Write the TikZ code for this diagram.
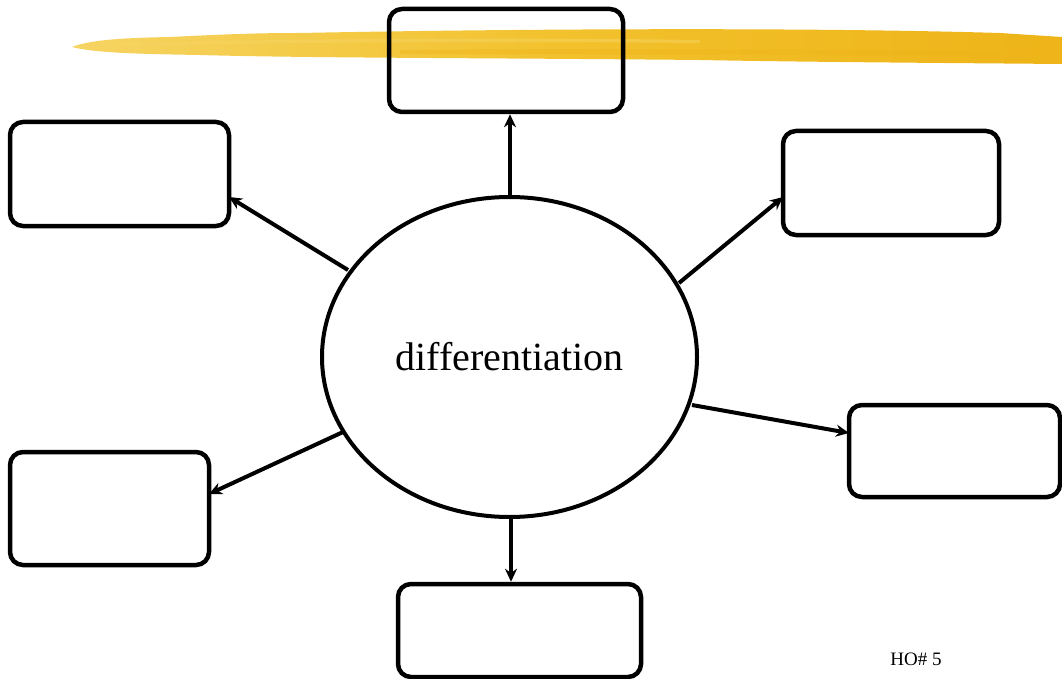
\documentclass[tikz,border=0pt]{standalone}
\usepackage{fontspec}
\setmainfont{Liberation Serif}
\usetikzlibrary{arrows.meta,shapes.geometric}
\definecolor{brushlight}{HTML}{F6D462}
\definecolor{brushmid}{HTML}{F2C12C}
\definecolor{brushdark}{HTML}{EEB418}
\tikzset{
  card/.style={draw=black,line width=4.5pt,rounded corners=13pt,fill=none},
  link/.style={draw=black,line width=4pt,-{Stealth[length=13pt,width=12pt]}},
  hub/.style={draw=black,line width=4pt,ellipse,minimum width=375pt,minimum height=320pt,inner sep=0pt,font=\fontsize{40}{44}\selectfont}
}
\begin{document}
\begin{tikzpicture}[x=1pt,y=-1pt]
\useasboundingbox (0,0) rectangle (1062,679);
% yellow brush stroke across the top
\shade[left color=brushlight,right color=brushdark,middle color=brushmid]
  (72,47) .. controls (90,40) and (120,38) .. (170,37)
  .. controls (230,34) and (260,33) .. (300,33)
  .. controls (500,29) and (800,27) .. (1000,33)
  -- (1062,37) -- (1062,64)
  .. controls (950,63) and (800,62) .. (700,60)
  .. controls (500,58) and (300,58) .. (200,55)
  .. controls (140,54) and (95,53) .. cycle;
\fill[brushlight,opacity=0.5] (100,44) .. controls (250,39) and (500,37) .. (700,40)
  -- (700,43) .. controls (500,41) and (250,42) .. (100,47) -- cycle;
\fill[brushdark,opacity=0.4] (400,50) .. controls (600,48) and (850,50) .. (1050,52)
  -- (1050,56) .. controls (850,55) and (600,54) .. (400,54) -- cycle;
% surrounding boxes
\node[card,minimum width=234pt,minimum height=103pt] (top) at (506,60.5) {};
\node[card,minimum width=219pt,minimum height=104pt] (ul) at (119.5,174) {};
\node[card,minimum width=216pt,minimum height=104pt] (ur) at (891,183) {};
\node[card,minimum width=211pt,minimum height=92pt] (r) at (954.5,451) {};
\node[card,minimum width=199pt,minimum height=113pt] (ll) at (109.5,508.5) {};
\node[card,minimum width=243pt,minimum height=93pt] (bot) at (519.5,630.5) {};
% central ellipse
\node[hub] (c) at (509.5,357) {differentiation};
% connectors
\coordinate (a1) at (510,197);
\coordinate (a2) at (348,270);
\coordinate (a3) at (679,283);
\coordinate (a4) at (692,405);
\coordinate (a5) at (343,432);
\coordinate (a6) at (511,517);
\draw[link] (a1) -- (top.south -| a1);
\draw[link] (a2) -- (229,197);
\draw[link] (a3) -- (783,197);
\draw[link] (a4) -- (849,433);
\draw[link] (a5) -- (209,494);
\draw[link] (a6) -- (bot.north -| a6);
\node[font=\fontsize{19}{21}\selectfont] (ho) at (916,659) {HO\# 5};
\end{tikzpicture}
\end{document}
